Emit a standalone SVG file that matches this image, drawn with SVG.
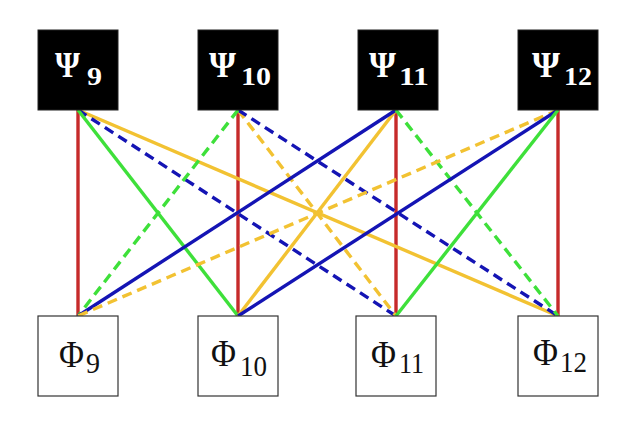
<svg xmlns="http://www.w3.org/2000/svg" width="638" height="442" viewBox="0 0 638 442">
<style>
.top{fill:#000;stroke:#222;stroke-width:1}
.bot{fill:#fff;stroke:#333;stroke-width:1.2}
.psi{font-family:"Liberation Serif",serif;font-weight:bold;fill:#fff}
.phi{font-family:"Liberation Serif",serif;fill:#111}
.l{fill:none;stroke-width:3.4}
.r{stroke:#c62a2a}
.g{stroke:#3ee03a}
.b{stroke:#1414b4}
.y{stroke:#f2c232}
.d{stroke-dasharray:10 6}
</style>
<rect width="638" height="442" fill="#fff"/>
<g id="connectors">
<line class="l r" x1="78" y1="110" x2="78" y2="316"/>
<line class="l r" x1="238" y1="110" x2="238" y2="316"/>
<line class="l r" x1="396" y1="110" x2="396" y2="316"/>
<line class="l r" x1="558" y1="110" x2="558" y2="316"/>
<line class="l y" x1="78" y1="110" x2="558" y2="316"/>
<line class="l b d" x1="78" y1="110" x2="396" y2="316"/>
<line class="l g" x1="78" y1="110" x2="238" y2="316"/>
<line class="l y d" x1="238" y1="110" x2="396" y2="316"/>
<line class="l b d" x1="238" y1="110" x2="558" y2="316"/>
<line class="l g d" x1="238" y1="110" x2="78" y2="316"/>
<line class="l y" x1="396" y1="110" x2="238" y2="316"/>
<line class="l b" x1="396" y1="110" x2="78" y2="316"/>
<line class="l g d" x1="396" y1="110" x2="558" y2="316"/>
<line class="l y d" x1="558" y1="110" x2="78" y2="316"/>
<line class="l b" x1="558" y1="110" x2="238" y2="316"/>
<line class="l g" x1="558" y1="110" x2="396" y2="316"/>
</g>
<g id="psi9"><rect class="top" x="38" y="30" width="80" height="80"/>
<text class="psi" font-size="35" x="55" y="77" textLength="25" lengthAdjust="spacingAndGlyphs">Ψ</text>
<text class="psi" font-size="25" x="87" y="85" textLength="15" lengthAdjust="spacingAndGlyphs">9</text></g>
<g id="psi10"><rect class="top" x="198" y="30" width="80" height="80"/>
<text class="psi" font-size="35" x="209" y="77" textLength="27" lengthAdjust="spacingAndGlyphs">Ψ</text>
<text class="psi" font-size="25" x="241" y="85" textLength="30" lengthAdjust="spacingAndGlyphs">10</text></g>
<g id="psi11"><rect class="top" x="358" y="30" width="80" height="80"/>
<text class="psi" font-size="35" x="369" y="77" textLength="27" lengthAdjust="spacingAndGlyphs">Ψ</text>
<text class="psi" font-size="25" x="399" y="85" textLength="30" lengthAdjust="spacingAndGlyphs">11</text></g>
<g id="psi12"><rect class="top" x="518" y="30" width="80" height="80"/>
<text class="psi" font-size="35" x="532" y="77" textLength="28" lengthAdjust="spacingAndGlyphs">Ψ</text>
<text class="psi" font-size="25" x="564" y="85" textLength="28" lengthAdjust="spacingAndGlyphs">12</text></g>
<g id="phi9"><rect class="bot" x="38" y="316" width="80" height="80"/>
<text class="phi" font-size="38" x="59" y="367" textLength="25" lengthAdjust="spacingAndGlyphs">Φ</text>
<text class="phi" font-size="29" x="86" y="373" textLength="14" lengthAdjust="spacingAndGlyphs">9</text></g>
<g id="phi10"><rect class="bot" x="198" y="316" width="80" height="80"/>
<text class="phi" font-size="38" x="211" y="366" textLength="25" lengthAdjust="spacingAndGlyphs">Φ</text>
<text class="phi" font-size="30" x="240" y="376" textLength="27" lengthAdjust="spacingAndGlyphs">10</text></g>
<g id="phi11"><rect class="bot" x="356" y="316" width="80" height="80"/>
<text class="phi" font-size="38" x="371" y="367" textLength="25" lengthAdjust="spacingAndGlyphs">Φ</text>
<text class="phi" font-size="29" x="399" y="373" textLength="25" lengthAdjust="spacingAndGlyphs">11</text></g>
<g id="phi12"><rect class="bot" x="518" y="316" width="80" height="80"/>
<text class="phi" font-size="38" x="533" y="365" textLength="25" lengthAdjust="spacingAndGlyphs">Φ</text>
<text class="phi" font-size="29" x="560" y="372" textLength="27" lengthAdjust="spacingAndGlyphs">12</text></g>
</svg>
